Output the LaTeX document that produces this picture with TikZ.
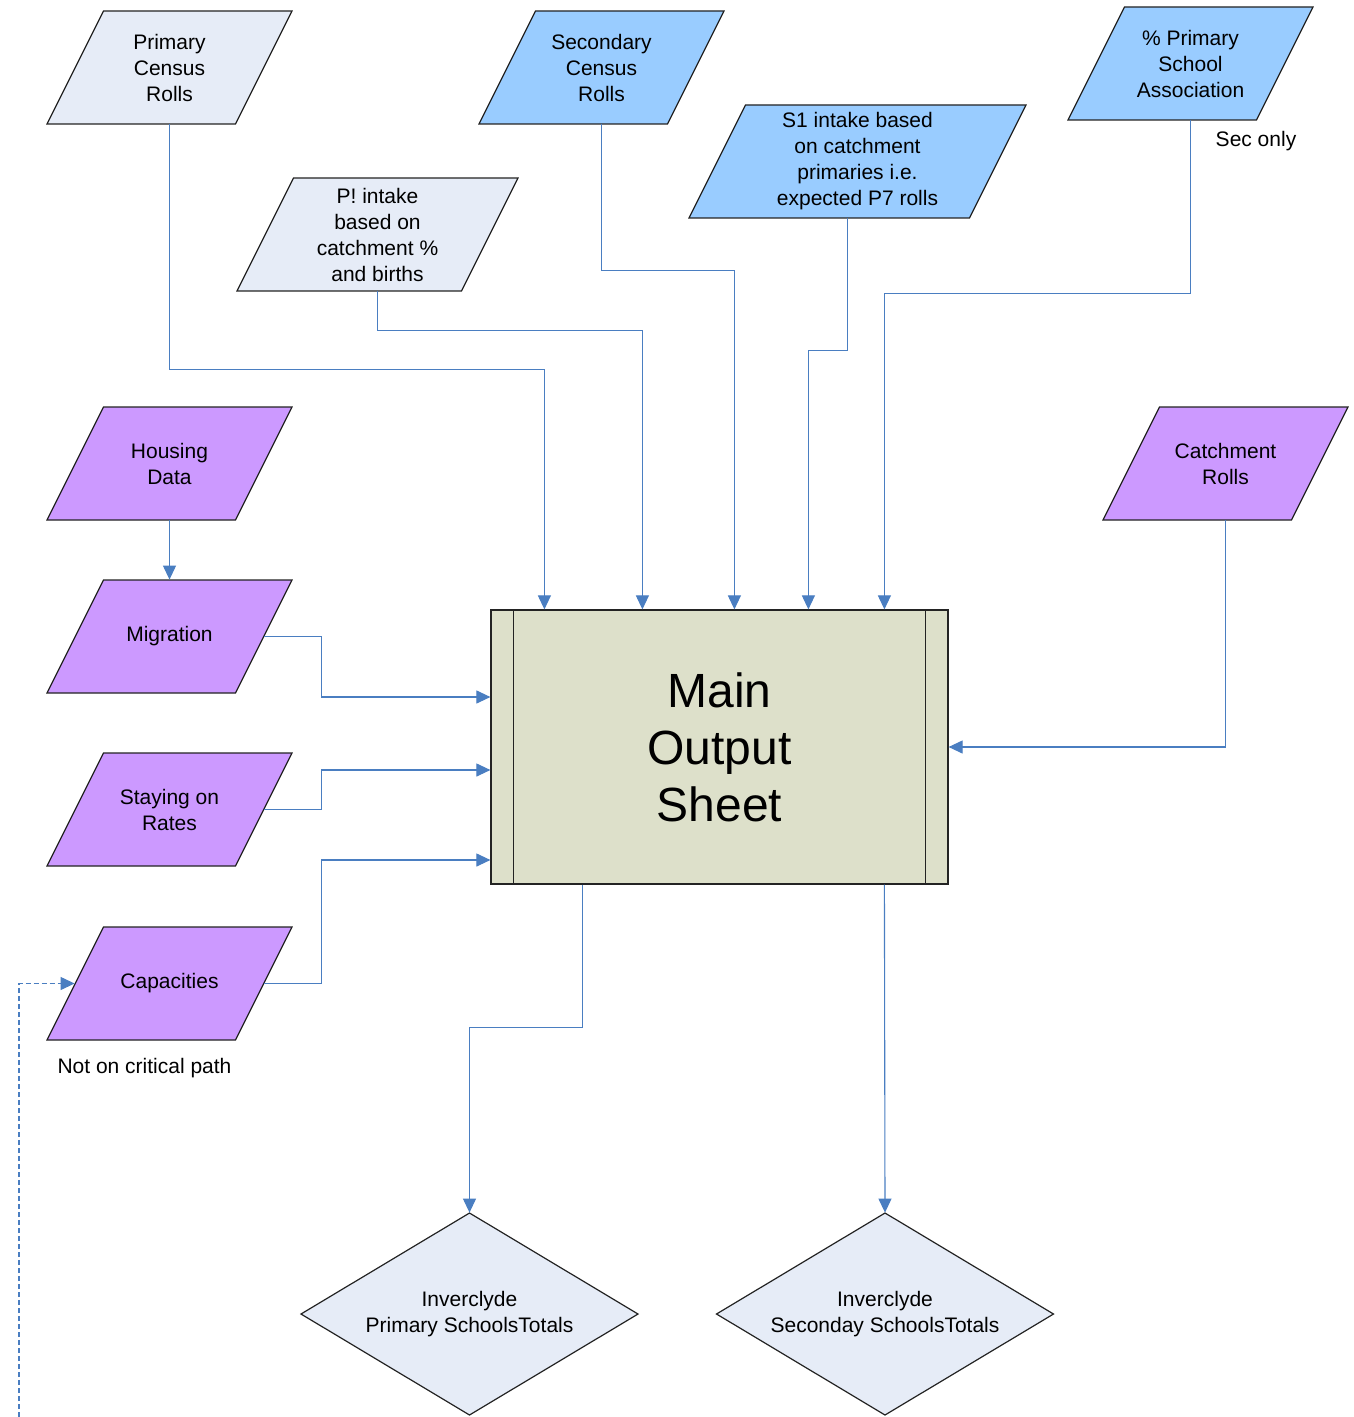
\documentclass[tikz,border=0pt]{standalone}
\usepackage{fontspec}
\setmainfont{Liberation Sans}
\usetikzlibrary{arrows.meta,calc}
\definecolor{pale}{RGB}{230,236,247}
\definecolor{skyb}{RGB}{153,204,255}
\definecolor{lilac}{RGB}{204,153,255}
\definecolor{olivebox}{RGB}{221,224,202}
\definecolor{conn}{RGB}{74,126,193}
\definecolor{edgec}{RGB}{35,35,35}
\tikzset{
  shapeline/.style={draw=edgec, line width=0.6pt},
  lbl/.style={font=\fontsize{10.5pt}{13pt}\selectfont, align=center, inner sep=0pt},
  wire/.style={draw=conn, line width=0.55pt},
  arr/.style={wire, -{Triangle[length=7pt,width=6.5pt]}},
  dashwire/.style={arr, dash pattern=on 2.5pt off 1.5pt},
}
\newcommand\pgm[6]{%
  \filldraw[shapeline, fill=#5] ({#2-#4/2+56.5},{#3-56.5}) -- ({#2+#4/2},{#3-56.5}) -- ({#2+#4/2-56.5},{#3+56.5}) -- ({#2-#4/2},{#3+56.5}) -- cycle;
  \node[lbl, minimum width={#4*0.5pt}, minimum height=56.5pt] (#1) at (#2,#3) {#6};
}
\newcommand\dia[4]{%
  \filldraw[shapeline, fill=pale] (#2,{#3-101}) -- ({#2+168.5},#3) -- (#2,{#3+101}) -- ({#2-168.5},#3) -- cycle;
  \node[lbl, minimum width=168.5pt, minimum height=101pt] (#1) at (#2,#3) {#4};
}
\begin{document}
\begin{tikzpicture}[x=0.5pt,y=-0.5pt]
\useasboundingbox (0,0) rectangle (1353,1417);
% input shapes
\pgm{pcr}{169.5}{67.5}{245}{pale}{Primary\\Census\\Rolls}
\pgm{scr}{601.5}{67.5}{245}{skyb}{Secondary\\Census\\Rolls}
\pgm{pps}{1190.5}{63.5}{245}{skyb}{\% Primary\\School\\Association}
\pgm{s1}{857.5}{161.5}{337}{skyb}{S1 intake based\\on catchment\\primaries i.e.\\expected P7 rolls}
\pgm{p1}{377.5}{234.5}{281}{pale}{P! intake\\based on\\catchment \%\\and births}
\pgm{hd}{169.5}{463.5}{245}{lilac}{Housing\\Data}
\pgm{mig}{169.5}{636.5}{245}{lilac}{Migration}
\pgm{sor}{169.5}{809.5}{245}{lilac}{Staying on\\Rates}
\pgm{cap}{169.5}{983.5}{245}{lilac}{Capacities}
\pgm{cr}{1225.5}{463.5}{245}{lilac}{Catchment\\Rolls}
% main box
\node[shapeline, fill=olivebox, minimum width=228.5pt, minimum height=137pt, inner sep=0pt,
      align=center, font=\fontsize{24pt}{28.5pt}\selectfont] (main) at (719.5,747) {Main\\Output\\Sheet};
\draw[shapeline] ($(main.north west)+(23,0)$) -- ($(main.south west)+(23,0)$);
\draw[shapeline] ($(main.north east)+(-23,0)$) -- ($(main.south east)+(-23,0)$);
% outputs
\dia{dp}{469.5}{1314}{Inverclyde\\Primary SchoolsTotals}
\dia{ds}{885}{1314}{Inverclyde\\Seconday SchoolsTotals}
% notes
\node[lbl] (sec) at (1256,141) {Sec only};
\node[lbl] (ncp) at (144.5,1068) {Not on critical path};
% connectors
\draw[arr] (pcr.south) |- ($(main.north west)+(54,-240)$) -- ($(main.north west)+(54,0)$);
\draw[arr] (p1.south) |- ($(main.north west)+(152,-279)$) -- ($(main.north west)+(152,0)$);
\draw[arr] (scr.south) |- ($(main.north west)+(244,-339)$) -- ($(main.north west)+(244,0)$);
\draw[arr] ($(s1.south)+(-10,0)$) |- ($(main.north west)+(318,-259)$) -- ($(main.north west)+(318,0)$);
\draw[arr] (pps.south) |- ($(main.north west)+(394,-316)$) -- ($(main.north west)+(394,0)$);
\draw[arr] (hd.south) -- (mig.north);
\draw[arr] ($(mig.east)+(-28,0)$) -- ++(57,0) |- ($(main.west)+(0,-50)$);
\draw[arr] ($(sor.east)+(-28,0)$) -- ++(57,0) |- ($(main.west)+(0,23)$);
\draw[arr] ($(cap.east)+(-28,0)$) -- ++(57,0) |- ($(main.west)+(0,113)$);
\draw[arr] (cr.south) |- (main.east);
\draw[arr] ($(main.south west)+(92,0)$) -- ++(0,143) -| (dp.north);
\draw[arr] ($(main.south west)+(394,0)$) -- (ds.north);
\coordinate (dstart) at (19,1417);
\draw[dashwire] (dstart) |- ($(cap.west)+(28,0)$);
\end{tikzpicture}
\end{document}
